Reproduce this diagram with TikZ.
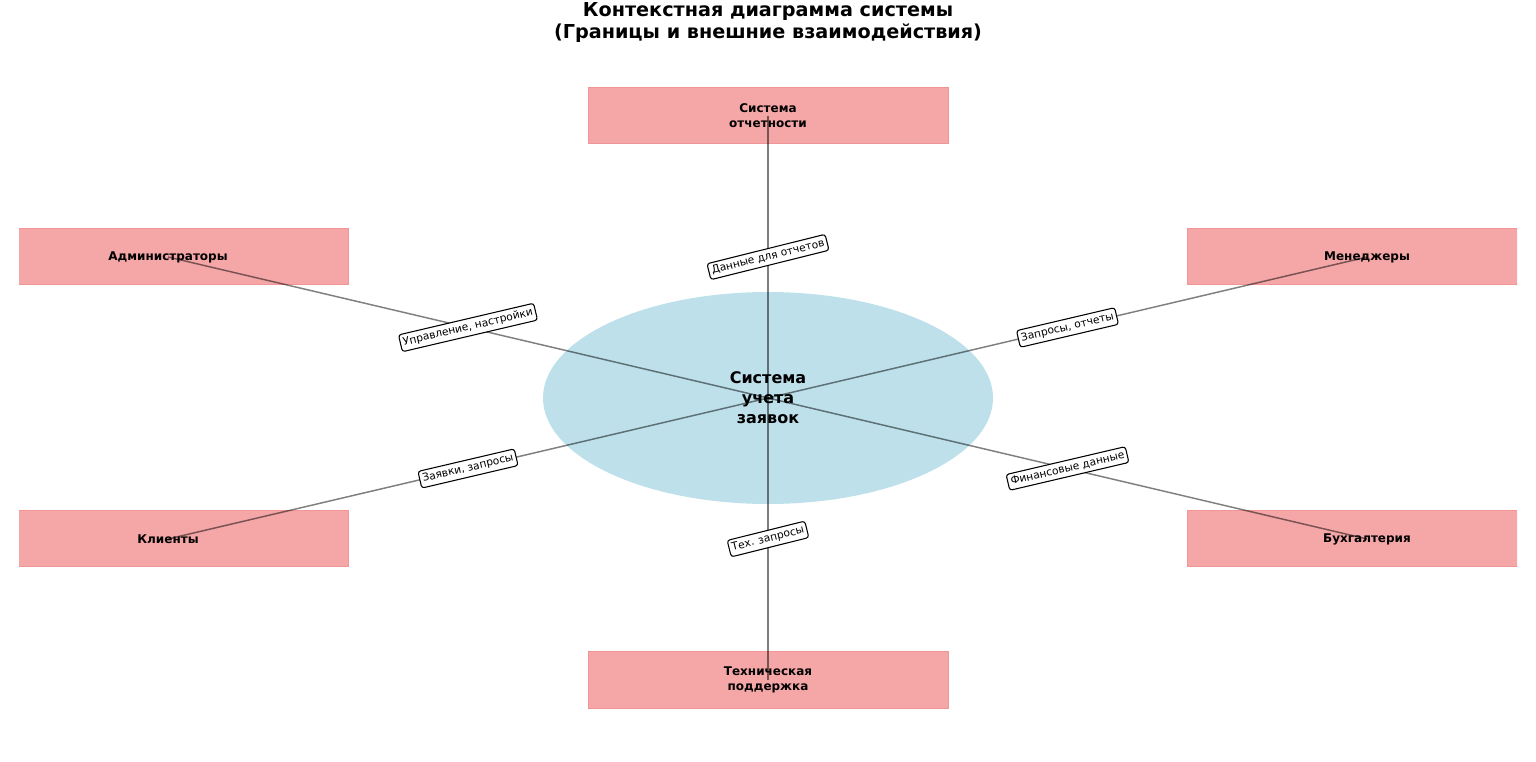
\documentclass[tikz,border=0pt]{standalone}
\usepackage{fontspec}
\setmainfont{DejaVu Sans}
\usetikzlibrary{shapes.geometric,calc}
\definecolor{boxfill}{RGB}{245,166,166}
\definecolor{boxedge}{RGB}{240,150,150}
\definecolor{sysfill}{RGB}{189,224,235}
\tikzset{
  extbox/.style={rectangle, fill=boxfill, draw=boxedge, line width=0.75pt,
    minimum width=270pt, minimum height=42pt, inner sep=0pt, align=center,
    font=\fontsize{9}{11.25}\selectfont\bfseries},
  flow/.style={draw=black, draw opacity=0.5, line width=1.1pt},
  flowlabel/.style={fill=white, draw=black, line width=0.8pt, rounded corners=2pt,
    inner xsep=2.2pt, inner ysep=2.6pt, font=\fontsize{8}{9.6}\selectfont, rotate=13.2},
  titletext/.style={align=center, font=\fontsize{14.4}{16.8}\selectfont\bfseries}
}
\begin{document}
\begin{tikzpicture}[x=0.75pt,y=-0.75pt]
\useasboundingbox (0,0) rectangle (1536,762);
\node[titletext] (title) at (768,22.5) {Контекстная диаграмма системы\\(Границы и внешние взаимодействия)};
\node[ellipse, fill=sysfill, minimum width=337.5pt, minimum height=159pt, inner sep=0pt] (sys) at (768,398) {};
\begin{scope}
\clip (19,0) rectangle (1517,762);
\node[extbox] (rep) at (768,116) {Система\\отчетности};
\node[extbox] (adm) at (168,257) {Администраторы};
\node[extbox] (man) at (1367,257) {Менеджеры};
\node[extbox] (cli) at (168,539) {Клиенты};
\node[extbox] (acc) at (1367,539) {Бухгалтерия};
\node[extbox] (tech) at (768,680) {Техническая\\поддержка};
\end{scope}
\draw[flow] (rep.center) -- (sys.center);
\draw[flow] (adm.center) -- (sys.center);
\draw[flow] (man.center) -- (sys.center);
\draw[flow] (cli.center) -- (sys.center);
\draw[flow] (acc.center) -- (sys.center);
\draw[flow] (tech.center) -- (sys.center);
\node[align=center, font=\fontsize{12}{15}\selectfont\bfseries] (systext) at (768,398) {Система\\учета\\заявок};
\node[flowlabel, rotate=0.8] (l1) at ($(rep.center)!0.5!(sys.center)$) {Данные для отчетов};
\node[flowlabel] (l2) at ($(adm.center)!0.5!(sys.center)$) {Управление, настройки};
\node[flowlabel] (l3) at ($(man.center)!0.5!(sys.center)$) {Запросы, отчеты};
\node[flowlabel] (l4) at ($(cli.center)!0.5!(sys.center)$) {Заявки, запросы};
\node[flowlabel] (l5) at ($(acc.center)!0.5!(sys.center)$) {Финансовые данные};
\node[flowlabel, rotate=0.8] (l6) at ($(tech.center)!0.5!(sys.center)$) {Тех. запросы};
\end{tikzpicture}
\end{document}
